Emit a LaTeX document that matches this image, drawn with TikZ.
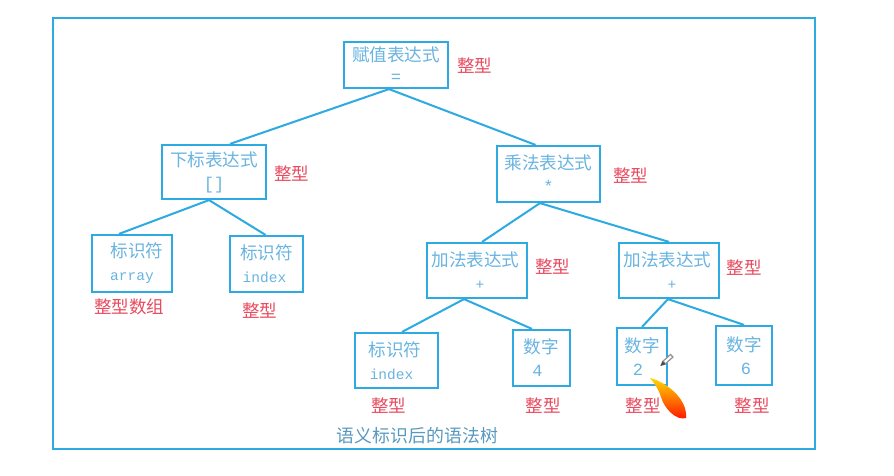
\documentclass[tikz,border=0pt]{standalone}
\usepackage{fontspec}
\setmainfont{Noto Sans CJK SC}
\setmonofont{Liberation Mono}
\definecolor{frameblue}{RGB}{45,170,225}
\definecolor{inkblue}{RGB}{105,180,225}
\definecolor{typered}{RGB}{232,75,95}
\newcommand{\opline}[1]{{\ttfamily\fontsize{14.5}{16}\selectfont #1}}
\newcommand{\bigop}[1]{{\ttfamily\fontsize{17}{16}\selectfont #1}}
\tikzset{
  x=1pt,y=-1pt,
  treebox/.style 2 args={draw=frameblue,line width=2.2pt,inner sep=0pt,align=center,text=inkblue,
    minimum width=#1pt,minimum height=#2pt,font=\fontsize{17.6}{24}\selectfont},
  typelabel/.style={text=typered,inner sep=0pt,font=\fontsize{17.5}{20}\selectfont},
  edge/.style={draw=frameblue,line width=2pt}
}
\begin{document}
\begin{tikzpicture}
\useasboundingbox (0,0) rectangle (894,475);
\fill[white] (0,0) rectangle (894,475);
% outer frame
\node[draw=frameblue,line width=2.2pt,minimum width=762pt,minimum height=431pt,inner sep=0pt] (frame) at (434,233.5) {};

% syntax tree nodes
\node[treebox={104}{46}] (assign) at (396,65) {赋值表达式\\[-3pt]\bigop{=}};
\node[treebox={104}{54}] (index) at (214,172) {下标表达式\\[-1pt]\bigop{[]}};
\node[treebox={103}{56}] (mul) at (548.5,174) {乘法表达式\\[-1pt]\bigop{*}};
\node[treebox={80}{57}] (idarray) at (132,263.5) {\hspace{10pt}标识符\\[-1pt]\opline{array}};
\node[treebox={73}{56}] (idindex) at (266.5,264) {标识符\\[-1pt]\hspace{-4pt}\opline{index}};
\node[treebox={100}{55}] (addl) at (477,270.5) {\hspace{-3pt}加法表达式\\[-1pt]\hspace{6pt}\opline{+}};
\node[treebox={100}{55}] (addr) at (669,270.5) {\hspace{-3pt}加法表达式\\[-1pt]\hspace{6pt}\opline{+}};
\node[treebox={83}{55}] (idleft) at (396.5,360.5) {\hspace{-3pt}标识符\\[-1pt]\hspace{-10pt}\opline{index}};
\node[treebox={57}{56}] (num4) at (541.5,358) {数字\\[-1pt]\hspace{-8pt}\bigop{4}};
\node[treebox={50}{57}] (num2) at (642,356.5) {数字\\[-1pt]\hspace{-8pt}\bigop{2}};
\node[treebox={56}{59}] (num6) at (744,355.5) {数字\\[-1pt]\hspace{4pt}\bigop{6}};

% connectors
\coordinate (assignfoot) at ([xshift=-7pt]assign.south);
\coordinate (indexfoot) at ([xshift=-5pt]index.south);
\coordinate (mulfoot) at ([xshift=-8.5pt]mul.south);
\coordinate (addlfoot) at ([xshift=-13pt]addl.south);
\coordinate (addrfoot) at ([xshift=-1pt]addr.south);
\draw[edge] (assignfoot) -- ([xshift=16pt]index.north);
\draw[edge] (assignfoot) -- ([xshift=-13pt]mul.north);
\draw[edge] (indexfoot) -- ([xshift=-13pt]idarray.north);
\draw[edge] (indexfoot) -- ([xshift=-1pt]idindex.north);
\draw[edge] (mulfoot) -- ([xshift=5pt]addl.north);
\draw[edge] (mulfoot) -- (addr.north);
\draw[edge] (addlfoot) -- ([xshift=5.5pt]idleft.north);
\draw[edge] (addlfoot) -- ([xshift=-9.5pt]num4.north);
\draw[edge] (addrfoot) -- (num2.north);
\draw[edge] (addrfoot) -- (num6.north);

% type annotations
\node[typelabel] (tassign) at (474.5,65.5) {整型};
\node[typelabel] (tindex) at (291.5,174) {整型};
\node[typelabel] (tmul) at (630.5,176) {整型};
\node[typelabel] (tarray) at (129,307) {整型数组};
\node[typelabel] (tidindex) at (259.5,311) {整型};
\node[typelabel] (taddl) at (552.5,267) {整型};
\node[typelabel] (taddr) at (744,268) {整型};
\node[typelabel] (tidleft) at (388.5,406) {整型};
\node[typelabel] (tnum4) at (543,406) {整型};
\node[typelabel] (tnum2) at (643,406) {整型};
\node[typelabel] (tnum6) at (752,406) {整型};

% caption
\node[text=inkblue!85!black,inner sep=0pt,font=\fontsize{17.9}{20}\selectfont] (caption) at (417.5,436) {语义标识后的语法树};

% pencil cursor
\begin{scope}[shift={(667,360)},rotate=-48]
  \fill[gray!85] (-2.4,-7) rectangle (2.4,4);
  \fill[white] (-1,-5.5) rectangle (1,3);
  \fill[black!70] (-2.4,4) -- (2.4,4) -- (0,9) -- cycle;
\end{scope}
% feather cursor
\shade[top color=yellow!70!orange,bottom color=red!90!orange,draw=none]
  (650,378) .. controls (664,381) and (688,398) .. (686,418)
  .. controls (676,421) and (664,408) .. (661,397)
  .. controls (659,390) and (655,384) .. (650,378) -- cycle;
\end{tikzpicture}
\end{document}
